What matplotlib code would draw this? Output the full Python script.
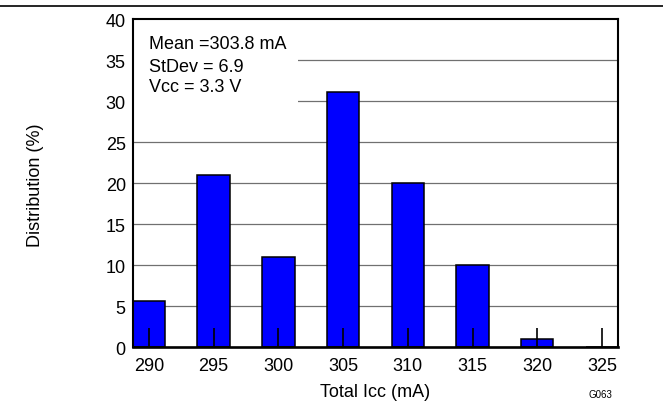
import matplotlib
matplotlib.use("Agg")
import matplotlib.pyplot as plt
from matplotlib.patches import Rectangle
from matplotlib.lines import Line2D

plt.rcParams['font.family'] = ['Liberation Sans', 'DejaVu Sans']

# data
icc_bins = [290, 295, 300, 305, 310, 315, 320, 325]
dist_pct = [5.6, 21.0, 11.0, 31.1, 20.0, 10.0, 1.0, 0.0]
y_ticks = [0, 5, 10, 15, 20, 25, 30, 35, 40]
grid_levels = [5, 10, 15, 20, 25, 30, 35]
stats_lines = ["Mean =303.8 mA", "StDev = 6.9", "Vcc = 3.3 V"]

fig = plt.figure(figsize=(6.63, 4.02), dpi=100)
ax = fig.add_axes([0.2002, 0.1336, 0.7312, 0.8159])

# grid behind everything
for g in grid_levels:
    ax.axhline(g, color='#707070', lw=0.9, zorder=0.5)

# white patch behind the stats text hides the grid there
ax.add_patch(Rectangle((0, 0.73), 0.341, 0.27, transform=ax.transAxes,
                       facecolor='white', edgecolor='none', zorder=0.7))

ax.bar(icc_bins, dist_pct, width=2.5, color='#0000FF', edgecolor='black',
       linewidth=1.1, zorder=1)

ax.set_xlim(288.75, 326.2)
ax.set_ylim(0, 40)
ax.set_xticks(icc_bins)
ax.set_yticks(y_ticks)
ax.tick_params(axis='x', direction='in', length=13.5, width=1.2, color='black',
               pad=7, labelsize=13)
ax.tick_params(axis='y', length=0, pad=5, labelsize=13)

for s in ax.spines.values():
    s.set_linewidth(1.5)
ax.spines['bottom'].set_linewidth(1.9)

ax.set_xlabel('Total Icc (mA)', fontsize=13)
ax.set_ylabel('Distribution (%)', fontsize=13)
ax.xaxis.set_label_coords(0.5, -0.108)
ax.yaxis.set_label_coords(-0.183, 0.498)

for txt, yb in zip(stats_lines, [0.9125, 0.843, 0.78]):
    ax.text(0.0336, yb, txt, transform=ax.transAxes, fontsize=13,
            va='baseline', ha='left', zorder=3)

fig.add_artist(Line2D([0, 1], [0.9826, 0.9826], color='black', lw=1.2,
                      transform=fig.transFigure))
fig.text(0.905, 0.017, 'G063', fontsize=7, ha='center', va='center')

fig.savefig('out.png', dpi=100)
